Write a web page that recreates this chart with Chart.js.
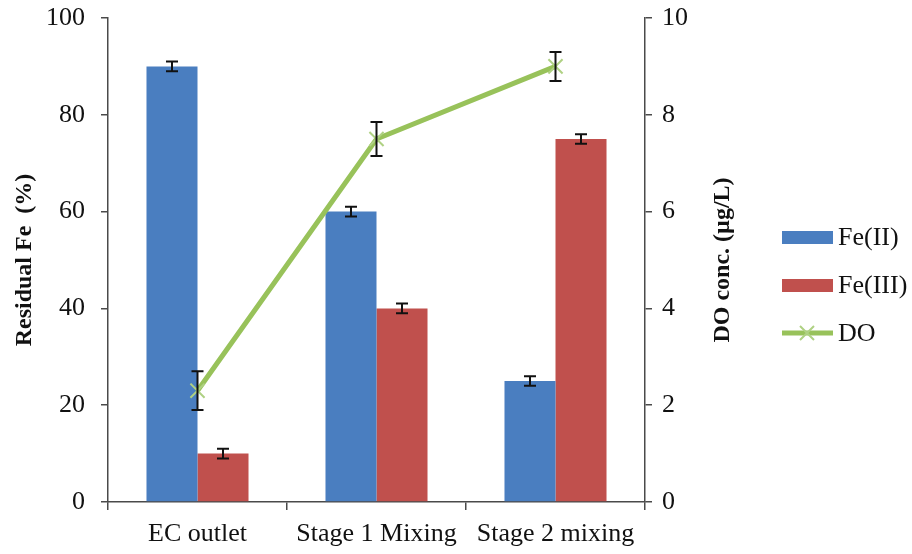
<!DOCTYPE html>
<html>
<head>
<meta charset="utf-8">
<script src="https://cdn.jsdelivr.net/npm/chart.js@4.4.1/dist/chart.umd.min.js"></script>
<style>
  html, body { margin: 0; padding: 0; background: #fff; }
</style>
</head>
<body>
<canvas id="myChart" width="912" height="554"></canvas>
<script>
let categories = ["EC outlet", "Stage 1 Mixing", "Stage 2 mixing"];
let fe2Values = [90, 60, 25];
let fe2Errors = [1, 1, 1];
let fe3Values = [10, 40, 75];
let fe3Errors = [1, 1, 1];
let doValues = [2.3, 7.5, 9];
let doErrors = [0.4, 0.35, 0.3];
let leftTicks = [0, 20, 40, 60, 80, 100];
let rightTicks = [0, 2, 4, 6, 8, 10];

const serif = "'Liberation Serif', 'Times New Roman', serif";
const axisColor = "#4a4a4a";

// error bars drawn from each dataset's "errors" array
const errorBars = {
    id: "errorBars",
    afterDatasetsDraw(chart) {
        const ctx = chart.ctx;
        ctx.save();
        ctx.strokeStyle = "#111";
        ctx.lineWidth = 2;
        chart.data.datasets.forEach((ds, di) => {
            if (!ds.errors) return;
            const meta = chart.getDatasetMeta(di);
            const scale = chart.scales[meta.yAxisID];
            meta.data.forEach((el, i) => {
                const x = el.x;
                const yTop = scale.getPixelForValue(ds.data[i] + ds.errors[i]);
                const yBot = scale.getPixelForValue(ds.data[i] - ds.errors[i]);
                ctx.beginPath();
                ctx.moveTo(x, yTop); ctx.lineTo(x, yBot);
                ctx.moveTo(x - 6, yTop); ctx.lineTo(x + 6, yTop);
                ctx.moveTo(x - 6, yBot); ctx.lineTo(x + 6, yBot);
                ctx.stroke();
            });
        });
        ctx.restore();
    }
};

// right axis title (bottom to top) and the legend on the right
const sideBits = {
    id: "sideBits",
    afterDraw(chart) {
        const ctx = chart.ctx;
        const area = chart.chartArea;
        ctx.save();
        ctx.fillStyle = "#111";
        ctx.font = "bold 24px " + serif;
        ctx.textAlign = "center";
        ctx.textBaseline = "middle";
        ctx.translate(723, (area.top + area.bottom) / 2);
        ctx.rotate(-Math.PI / 2);
        ctx.fillText("DO conc. (\u00b5g/L)", 0, 0);
        ctx.restore();

        ctx.save();
        ctx.font = "26px " + serif;
        ctx.textBaseline = "middle";
        ctx.textAlign = "left";
        const legendOrder = [0, 1, 2];
        legendOrder.forEach((di, k) => {
            const ds = chart.data.datasets[di];
            const y = 237 + k * 48;
            if (ds.type === "line") {
                ctx.strokeStyle = ds.borderColor;
                ctx.lineWidth = 5;
                ctx.beginPath();
                ctx.moveTo(782, y); ctx.lineTo(833, y);
                ctx.stroke();
                ctx.strokeStyle = ds.pointBorderColor;
                ctx.lineWidth = 2;
                ctx.beginPath();
                ctx.moveTo(800, y - 7); ctx.lineTo(814, y + 7);
                ctx.moveTo(800, y + 7); ctx.lineTo(814, y - 7);
                ctx.stroke();
            } else {
                ctx.fillStyle = ds.backgroundColor;
                ctx.fillRect(782, y - 6, 51, 13);
            }
            ctx.fillStyle = "#111";
            ctx.fillText(ds.label, 838, y + 1);
        });
        ctx.restore();
    }
};

new Chart("myChart", {
    type: "bar",
    data: {
        labels: categories,
        datasets: [{
            label: "Fe(II)",
            data: fe2Values,
            errors: fe2Errors,
            backgroundColor: "#4a7ec0",
            yAxisID: "y",
            order: 1,
            barPercentage: 1,
            categoryPercentage: 0.57
        }, {
            label: "Fe(III)",
            data: fe3Values,
            errors: fe3Errors,
            backgroundColor: "#c0504d",
            yAxisID: "y",
            order: 1,
            barPercentage: 1,
            categoryPercentage: 0.57
        }, {
            type: "line",
            label: "DO",
            data: doValues,
            errors: doErrors,
            borderColor: "#98c25a",
            borderWidth: 5,
            pointStyle: "crossRot",
            pointRadius: 10,
            pointBorderWidth: 2,
            pointBorderColor: "#afd183",
            pointBackgroundColor: "#afd183",
            tension: 0,
            yAxisID: "y1",
            order: 0
        }]
    },
    options: {
        responsive: false,
        animation: false,
        devicePixelRatio: 1,
        layout: { padding: { left: 0, right: 217, top: 18, bottom: 0 } },
        plugins: {
            legend: { display: false },
            tooltip: { enabled: false }
        },
        scales: {
            x: {
                afterFit: (s) => { s.height = 52; },
                border: { color: axisColor, width: 1.5, dash: [2, 1] },
                grid: { drawOnChartArea: false, drawTicks: true, tickLength: 8, color: axisColor, lineWidth: 1.5 },
                ticks: { color: "#111", padding: 9, font: { family: serif, size: 26 } }
            },
            y: {
                position: "left",
                min: leftTicks[0],
                max: leftTicks[leftTicks.length - 1],
                afterFit: (s) => { s.width = 108; s.paddingTop = 0; s.paddingBottom = 0; },
                afterBuildTicks: (s) => { s.ticks = leftTicks.map(v => ({ value: v })); },
                border: { color: axisColor, width: 1.5 },
                grid: { drawOnChartArea: false, tickLength: 7, color: axisColor, lineWidth: 1.5 },
                ticks: { color: "#111", padding: 16, font: { family: serif, size: 26 } },
                title: {
                    display: true,
                    text: "Residual Fe  (%)",
                    color: "#111",
                    padding: { top: 10, bottom: 0 },
                    font: { family: serif, size: 24, weight: "bold" }
                }
            },
            y1: {
                position: "right",
                min: rightTicks[0],
                max: rightTicks[rightTicks.length - 1],
                afterFit: (s) => { s.width = 50; s.paddingTop = 0; s.paddingBottom = 0; },
                afterBuildTicks: (s) => { s.ticks = rightTicks.map(v => ({ value: v })); },
                border: { color: axisColor, width: 1.5 },
                grid: { drawOnChartArea: false, tickLength: 7, color: axisColor, lineWidth: 1.5 },
                ticks: { color: "#111", padding: 10, font: { family: serif, size: 26 } }
            }
        }
    },
    plugins: [errorBars, sideBits]
});
</script>
</body>
</html>
